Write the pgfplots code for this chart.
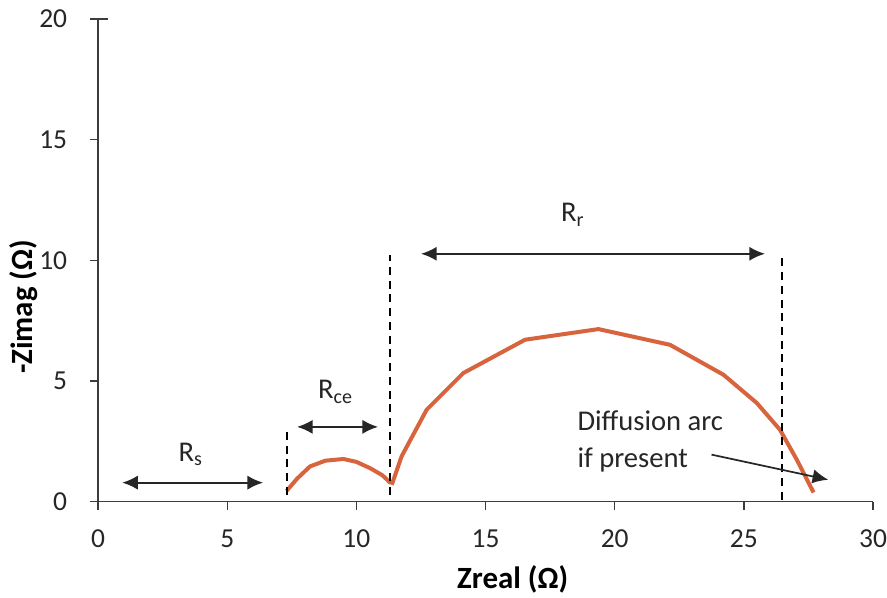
\documentclass[border=0pt]{standalone}
\usepackage{pgfplots}
\pgfplotsset{compat=1.18}
\usepackage{fontspec}
\setmainfont{Carlito}
\usetikzlibrary{arrows.meta}
\definecolor{curve}{RGB}{216,100,62}
\definecolor{axgray}{RGB}{60,60,60}
\begin{document}
\begin{tikzpicture}
\begin{axis}[
  scale only axis, width=270.9pt, height=168.8pt,
  xmin=0, xmax=30, ymin=0, ymax=20,
  axis x line*=bottom, axis y line*=left,
  xtick={0,5,...,30}, ytick={0,5,...,20},
  tick align=outside, major tick length=2.8pt,
  tick style={axgray, line width=0.5pt},
  axis line style={axgray, line width=0.5pt},
  ticklabel style={font=\fontsize{9.6}{11}\selectfont, text=black!85},
  xticklabel style={yshift=-3.6pt},
  yticklabel style={xshift=-4.5pt},
  /pgf/number format/assume math mode=true,
  xlabel={\textbf{Zreal (Ω)}},
  ylabel={\textbf{-Zimag (Ω)}},
  xlabel style={at={(axis description cs:0.535,-0.1617)}, anchor=center, font=\fontsize{10.8}{13}\selectfont},
  ylabel style={at={(axis description cs:-0.0965,0.404)}, anchor=center, font=\fontsize{10.8}{13}\selectfont},
  clip=false,
]
\addplot[curve, line width=1.4pt, line join=round] table {
x y
7.30 0.45
7.70 0.95
8.20 1.46
8.80 1.70
9.50 1.77
10.00 1.65
10.53 1.39
11.00 1.10
11.33 0.77
};
\addplot[curve, line width=1.4pt, line join=round] table {
x y
11.37 0.70
11.75 1.88
12.72 3.81
14.14 5.33
16.53 6.71
19.37 7.15
22.14 6.50
24.21 5.26
25.50 4.09
26.40 2.98
27.05 1.74
27.70 0.38
};
% top tick crossing the axis
\draw[axgray, line width=0.5pt] (axis cs:0,20) -- ++(3.5pt,0);
% dashed markers
\draw[black, line width=0.55pt, dash pattern=on 2.8pt off 2pt] (axis cs:7.32,0.29) -- (axis cs:7.32,2.98);
\draw[black, line width=0.55pt, dash pattern=on 2.8pt off 2pt] (axis cs:11.3,0.29) -- (axis cs:11.3,10.2);
\draw[black, line width=0.55pt, dash pattern=on 2.8pt off 2pt] (axis cs:26.48,0.08) -- (axis cs:26.48,10.2);
% arrows
\draw[black!85, line width=0.75pt, {Latex[length=5.5pt,width=5pt]}-{Latex[length=5.5pt,width=5pt]}] (axis cs:0.93,0.79) -- (axis cs:6.39,0.79);
\draw[black!85, line width=0.75pt, {Latex[length=5.5pt,width=5pt]}-{Latex[length=5.5pt,width=5pt]}] (axis cs:7.70,3.1) -- (axis cs:10.84,3.1);
\draw[black!85, line width=0.75pt, {Latex[length=5.5pt,width=5pt]}-{Latex[length=5.5pt,width=5pt]}] (axis cs:12.5,10.27) -- (axis cs:25.82,10.27);
\draw[black!85, line width=0.6pt, -{Latex[length=5.5pt,width=5pt]}] (axis cs:23.75,1.95) -- (axis cs:28.27,0.91);
% labels
\node[font=\fontsize{10}{12}\selectfont, text=black!85] at (axis cs:3.6,1.95) {R\textsubscript{s}};
\node[font=\fontsize{10}{12}\selectfont, text=black!85] at (axis cs:9.2,4.55) {R\textsubscript{ce}};
\node[font=\fontsize{10}{12}\selectfont, text=black!85] at (axis cs:18.39,11.88) {R\textsubscript{r}};
\node[font=\fontsize{10}{12.9}\selectfont, text=black!85, anchor=west, align=left, inner sep=0pt] at (axis cs:18.54,2.5) {Diffusion arc\\if present};
\end{axis}
\pgfresetboundingbox
\path[use as bounding box] (current axis.south west) ++(-34.3pt,-33.6pt) rectangle ([shift={(4.9pt,6.6pt)}]current axis.north east);
\end{tikzpicture}
\end{document}
